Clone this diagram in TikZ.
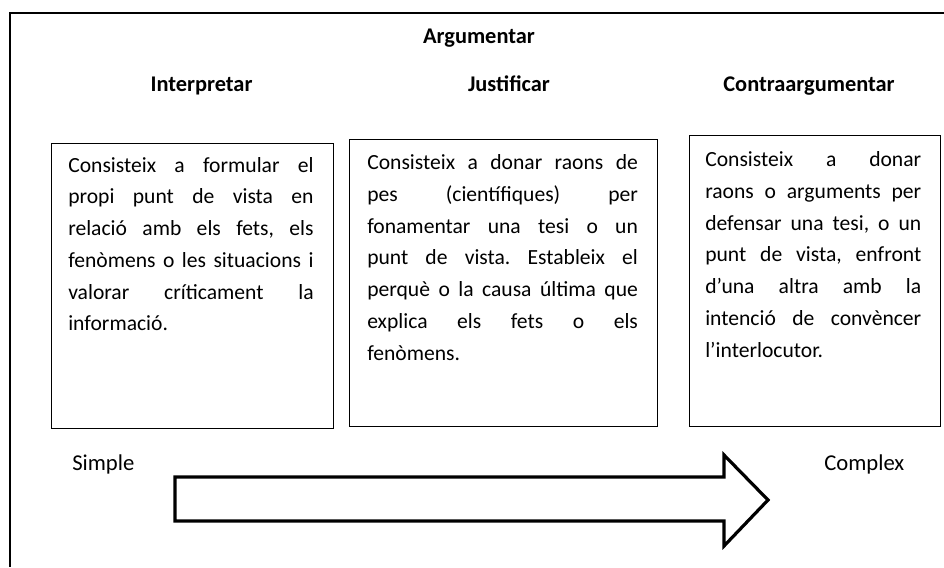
\documentclass[tikz,border=0pt]{standalone}
\usepackage{fontspec}
\setmainfont{Carlito}
\usepackage{tikz}
\usetikzlibrary{positioning}
\frenchspacing

\newcommand{\jline}[1]{{\spaceskip=\fontdimen2\font plus 1fil\relax\hbox to \jw{#1}}}

\tikzset{
  boxframe/.style={draw, line width=1.1pt, inner sep=0pt, anchor=north west},
  boxtext/.style={inner sep=0pt, anchor=north west, align=left, text width=#1,
    execute at begin node={\def\jw{#1}},
    font=\fontsize{16.2}{23.8}\selectfont},
  headtext/.style={anchor=base, inner sep=0pt, font=\fontsize{16.8}{18}\selectfont\bfseries},
  endtext/.style={anchor=base west, inner sep=0pt, font=\fontsize{17}{19}\selectfont},
}

\begin{document}
\begin{tikzpicture}[x=0.75pt,y=0.75pt,yscale=-1,xscale=1]
\useasboundingbox (0,0) rectangle (944,567);

%Frame
\draw [line width=1.1pt] (944,13) -- (10,13) -- (10,567) ;

%Titles
\node [headtext] (arg) at (479,43.5) {Argumentar};
\node [headtext] (interp) at (201.5,91.7) {Interpretar};
\node [headtext] (justif) at (509,91.7) {Justificar};
\node [headtext] (contra) at (809,91.7) {Contraargumentar};

%Shape: Rectangle
\node [boxframe, minimum width=211.5pt, minimum height=213.75pt] (boxi) at (51,143) {};
\node [boxtext=184pt] (texti) at (68,157) {%
\jline{Consisteix a formular el}
\jline{propi punt de vista en}
\jline{relació amb els fets, els}
\jline{fenòmens o les situacions i}
\jline{valorar críticament la}
informació.};

%Shape: Rectangle
\node [boxframe, minimum width=231pt, minimum height=215.25pt] (boxj) at (349,139) {};
\node [boxtext=203pt] (textj) at (367,154.5) {%
\jline{Consisteix a donar raons de}
\jline{pes (científiques) per}
\jline{fonamentar una tesi o un}
\jline{punt de vista. Estableix el}
\jline{perquè o la causa última que}
\jline{explica els fets o els}
fenòmens.};

%Shape: Rectangle
\node [boxframe, minimum width=188.25pt, minimum height=218.25pt] (boxc) at (689,135) {};
\node [boxtext=162pt] (textc) at (705,151.5) {%
\jline{Consisteix a donar}
\jline{raons o arguments per}
\jline{defensar una tesi, o un}
\jline{punt de vista, enfront}
\jline{d’una altra amb la}
\jline{intenció de convèncer}
l’interlocutor.};

%Labels
\node [endtext] (simple) at (72,470.7) {Simple};
\node [endtext] (complex) at (824,470.7) {Complex};

%Shape: Right Arrow
\draw [line width=2.4pt, line join=miter] (175,477) -- (724,477) -- (724,455) -- (768,500) -- (724,546) -- (724,521) -- (175,521) -- cycle ;

\end{tikzpicture}
\end{document}
